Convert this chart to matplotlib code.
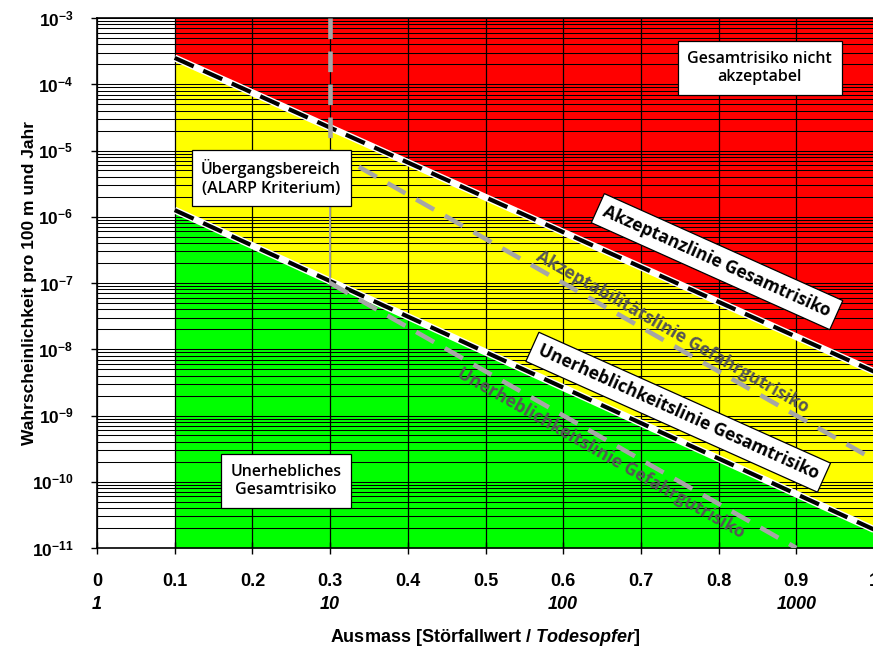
import numpy as np
import matplotlib
matplotlib.use('Agg')
import matplotlib.pyplot as plt
from matplotlib import font_manager as fm
from matplotlib.ticker import LogLocator, NullFormatter

# fonts
names = {f.name for f in fm.fontManager.ttflist}
axis_font = 'Liberation Sans'
box_font = 'Open Sans' if 'Open Sans' in names else 'DejaVu Sans'

plt.rcParams['mathtext.fontset'] = 'custom'
plt.rcParams['mathtext.rm'] = axis_font + ':bold'
plt.rcParams['mathtext.bf'] = axis_font + ':bold'
plt.rcParams['mathtext.it'] = axis_font + ':bold:italic'

# axis data
x_ticks = [0, 0.1, 0.2, 0.3, 0.4, 0.5, 0.6, 0.7, 0.8, 0.9, 1.0]
x_tick_labels = ['0', '0.1', '0.2', '0.3', '0.4', '0.5', '0.6', '0.7', '0.8', '0.9', '1']
victims = [1, 10, 100, 1000]
y_exps = [-3, -4, -5, -6, -7, -8, -9, -10, -11]

# criteria lines (Störfallwert, Wahrscheinlichkeit)
zone_x = [0.1, 1.0]
accept_total = [2.5e-4, 4.6e-9]
negl_total = [1.26e-6, 1.9e-11]
accept_dg_x = [0.3, 1.0]
accept_dg = [1e-5, 2.15e-10]
negl_dg_x = [0.3, 0.9]
negl_dg = [1e-7, 1e-11]
alarp_x = 0.3
alarp_upper = [1e-3, 1e-5]
alarp_lower = [1e-5, 1e-7]
y_top = 1e-3
y_bottom = 1e-11

fig = plt.figure(figsize=(8.73, 6.53), dpi=100)
ax = fig.add_axes([97 / 873, 1 - 548 / 653, 777 / 873, 530 / 653])
ax.set_yscale('log')
ax.set_xlim(0, 1)
ax.set_ylim(y_bottom, y_top)

# colored zones
ax.fill_between(zone_x, accept_total, [y_top, y_top], color='#ff0000', lw=0, zorder=0.5)
ax.fill_between(zone_x, negl_total, accept_total, color='#ffff00', lw=0, zorder=0.5)
ax.fill_between(zone_x, [y_bottom, y_bottom], negl_total, color='#00ff00', lw=0, zorder=0.5)

# grid
ax.set_axisbelow(False)
ax.yaxis.set_major_locator(LogLocator(base=10, numticks=20))
ax.yaxis.set_minor_locator(LogLocator(base=10, subs=np.arange(2, 10), numticks=100))
ax.yaxis.set_minor_formatter(NullFormatter())
ax.grid(True, which='both', axis='y', color='black', lw=0.75)
ax.grid(True, which='major', axis='x', color='black', lw=0.9)

# black total risk lines
for yy in (accept_total, negl_total):
    ax.plot(zone_x, yy, color='white', lw=5, solid_capstyle='butt', zorder=3)
    ax.plot(zone_x, yy, color='black', lw=3, dashes=(5, 2.5), zorder=3.1)

# gray dangerous goods lines
gray = '#a6a6a6'
ax.plot(accept_dg_x, accept_dg, color=gray, lw=3.3, dashes=(4.5, 2.7), zorder=4)
ax.plot(negl_dg_x, negl_dg, color=gray, lw=3.3, dashes=(4.5, 2.7), zorder=4)
ax.plot([alarp_x, alarp_x], alarp_upper, color=gray, lw=3.3, dashes=(4.5, 2.7), zorder=4)
ax.plot([alarp_x, alarp_x], alarp_lower, color=gray, lw=1.3, zorder=4)

# ticks
ax.set_xticks(x_ticks)
ax.set_xticklabels(x_tick_labels, fontsize=13, fontweight='bold', family=axis_font)
ax.set_yticks([10.0 ** e for e in y_exps])
ax.set_yticklabels([r'$\mathrm{10^{%d}}$' % e for e in y_exps], fontsize=12.5)
ax.tick_params(axis='x', direction='inout', length=8, width=1, pad=14)
ax.tick_params(axis='y', which='major', direction='out', length=4, width=1, pad=13)
ax.tick_params(axis='y', which='minor', length=0)
for s in ax.spines.values():
    s.set_linewidth(1.2)

for n in victims:
    ax.text(0.3 * np.log10(n), -0.106, str(n), transform=ax.get_xaxis_transform(),
            ha='center', va='center', fontsize=13, fontweight='bold', fontstyle='italic',
            family=axis_font)

ax.set_xlabel(r'Ausmass [Störfallwert / $\mathit{Todesopfer]}$', fontsize=13,
              fontweight='bold', family=axis_font)
ax.xaxis.set_label_coords(0.5, -0.15)
ax.set_ylabel('Wahrscheinlichkeit pro 100 m und Jahr', fontsize=12.5,
              fontweight='bold', family=axis_font)
ax.yaxis.set_label_coords(-0.077, 0.5)

# zone boxes
box = dict(boxstyle='square,pad=0.6', fc='white', ec='black', lw=0.9)
ax.text(0.853, 1.76e-4, 'Gesamtrisiko nicht\nakzeptabel', ha='center', va='center',
        fontsize=11.5, fontweight='semibold', family=box_font, bbox=box, zorder=6,
        linespacing=1.2)
ax.text(0.224, 3.85e-6, 'Übergangsbereich\n(ALARP Kriterium)', ha='center', va='center',
        fontsize=11.5, fontweight='semibold', family=box_font, bbox=box, zorder=6,
        linespacing=1.2)
ax.text(0.243, 1.02e-10, 'Unerhebliches\nGesamtrisiko', ha='center', va='center',
        fontsize=11.5, fontweight='semibold', family=box_font, bbox=box, zorder=6,
        linespacing=1.2)


def angle_of(xs, ys):
    p = ax.transData.transform(np.column_stack([xs, ys]))
    return np.degrees(np.arctan2(p[1, 1] - p[0, 1], p[1, 0] - p[0, 0]))


a_black = angle_of(zone_x, accept_total)
a_gray = angle_of(accept_dg_x, accept_dg)
rbox = dict(boxstyle='square,pad=0.4', fc='white', ec='black', lw=0.9)

ax.text(0.798, 2.1e-7, 'Akzeptanzlinie Gesamtrisiko', rotation=a_black,
        rotation_mode='anchor', ha='center', va='center', fontsize=12.5,
        fontweight='bold', family=box_font, bbox=rbox, zorder=6)
ax.text(0.748, 1.12e-9, 'Unerheblichkeitslinie Gesamtrisiko', rotation=a_black,
        rotation_mode='anchor', ha='center', va='center', fontsize=12.5,
        fontweight='bold', family=box_font, bbox=rbox, zorder=6)
ax.text(0.741, 1.8e-8, 'Akzeptabilitätslinie Gefahrgutrisiko', rotation=a_gray,
        rotation_mode='anchor', ha='center', va='center', fontsize=12.5,
        fontweight='bold', family=box_font, color='#555555', zorder=6)
ax.text(0.649, 2.7e-10, 'Unerheblichkeitslinie Gefahrgutrisiko', rotation=a_gray,
        rotation_mode='anchor', ha='center', va='center', fontsize=12.5,
        fontweight='bold', family=box_font, color='#555555', zorder=6)

fig.savefig('out.png', dpi=100)
